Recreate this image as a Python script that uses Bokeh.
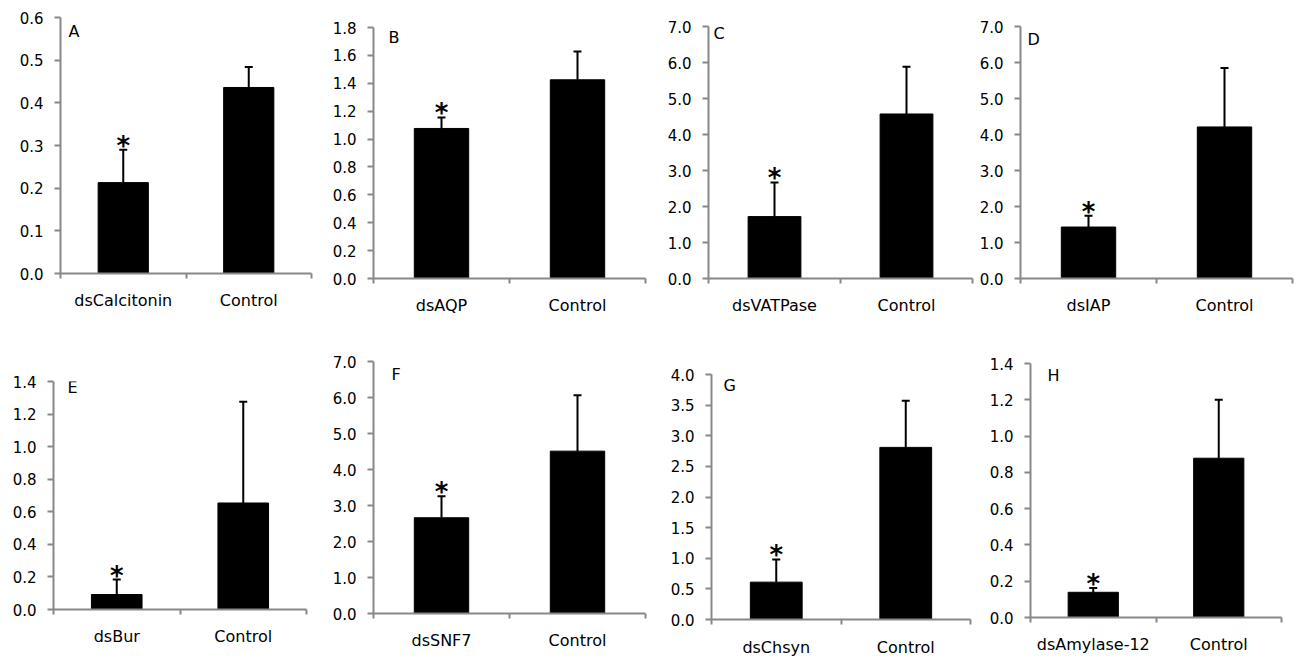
from bokeh.plotting import figure
from bokeh.layouts import column, row
from bokeh.models import (Range1d, FixedTicker, PrintfTickFormatter, Whisker,
                          TeeHead, ColumnDataSource, Label)
from bokeh.embed import file_html
from bokeh.resources import INLINE
from bokeh.core.properties import value

# ---------------- data ----------------
panel_letters = ["A", "B", "C", "D", "E", "F", "G", "H"]
treatments = ["dsCalcitonin", "dsAQP", "dsVATPase", "dsIAP",
              "dsBur", "dsSNF7", "dsChsyn", "dsAmylase-12"]
control_name = "Control"

means_A = [0.213, 0.436]
se_A = [0.077, 0.048]
means_B = [1.076, 1.425]
se_B = [0.079, 0.203]
means_C = [1.72, 4.57]
se_C = [0.95, 1.31]
means_D = [1.43, 4.21]
se_D = [0.31, 1.64]
means_E = [0.092, 0.654]
se_E = [0.092, 0.621]
means_F = [2.66, 4.51]
se_F = [0.60, 1.55]
means_G = [0.61, 2.81]
se_G = [0.37, 0.76]
means_H = [0.139, 0.878]
se_H = [0.024, 0.322]

stars = ["*", ""]

yticks_A = [0.0, 0.1, 0.2, 0.3, 0.4, 0.5, 0.6]
yticks_B = [0.0, 0.2, 0.4, 0.6, 0.8, 1.0, 1.2, 1.4, 1.6, 1.8]
yticks_C = [0.0, 1.0, 2.0, 3.0, 4.0, 5.0, 6.0, 7.0]
yticks_D = [0.0, 1.0, 2.0, 3.0, 4.0, 5.0, 6.0, 7.0]
yticks_E = [0.0, 0.2, 0.4, 0.6, 0.8, 1.0, 1.2, 1.4]
yticks_F = [0.0, 1.0, 2.0, 3.0, 4.0, 5.0, 6.0, 7.0]
yticks_G = [0.0, 0.5, 1.0, 1.5, 2.0, 2.5, 3.0, 3.5, 4.0]
yticks_H = [0.0, 0.2, 0.4, 0.6, 0.8, 1.0, 1.2, 1.4]

all_means = [means_A, means_B, means_C, means_D, means_E, means_F, means_G, means_H]
all_se = [se_A, se_B, se_C, se_D, se_E, se_F, se_G, se_H]
all_yticks = [yticks_A, yticks_B, yticks_C, yticks_D, yticks_E, yticks_F, yticks_G, yticks_H]

# ---------------- layout / style ----------------
# width, height, min_border left/right/top/bottom, letter dx, letter dy, x label standoff
layout = [
    (322, 333, 60, 11, 17, 60, 8, 14, 12),
    (330, 333, 51, 7, 27, 55, 15, 10, 12),
    (323, 333, 56, 3, 26, 55, 5, 7, 12),
    (324, 333, 45, 7, 26, 55, 7, 13, 12),
    (322, 326, 53, 16, 48, 50, 14, 6, 12),
    (330, 326, 51, 7, 28, 46, 18, 13, 12),
    (323, 326, 59, 5, 41, 37, 12, 11, 13),
    (324, 326, 55, 18, 30, 42, 17, 12, 12),
]

AXIS_GRAY = "#888888"
FONT = "DejaVu Sans"


def make_panel(i):
    w, h, mbl, mbr, mbt, mbb, ldx, ldy, xstand = layout[i]
    yt = all_yticks[i]
    means = all_means[i]
    ses = all_se[i]
    p = figure(width=w, height=h, x_range=Range1d(-0.5, 1.5),
               y_range=Range1d(yt[0], yt[-1]), title=None,
               toolbar_location=None, output_backend="svg",
               min_border_left=mbl, min_border_right=mbr,
               min_border_top=mbt, min_border_bottom=mbb)
    p.xgrid.visible = False
    p.ygrid.visible = False
    p.outline_line_color = None
    p.background_fill_color = "white"
    p.border_fill_color = "white"

    xs = [0, 1]
    uppers = [m + s for m, s in zip(means, ses)]
    src = ColumnDataSource(dict(x=xs, top=means, upper=uppers, star=stars))

    p.vbar(x="x", top="top", bottom=0, width=0.4, source=src,
           fill_color="black", line_color="black", line_width=1)

    wk = Whisker(base="x", lower="top", upper="upper", source=src,
                 dimension="height", line_color="black", line_width=2,
                 lower_head=None,
                 upper_head=TeeHead(size=8, line_color="black", line_width=2))
    p.add_layout(wk)

    star_src = ColumnDataSource(dict(x=xs[:1], y=uppers[:1], star=stars[:1]))
    p.text(x="x", y="y", text="star", source=star_src,
           text_font=value(FONT), text_font_size="26px",
           text_font_style="bold",
           text_align="center", text_baseline="alphabetic",
           y_offset=-4, text_color="black")

    # y axis
    ya = p.yaxis[0]
    ya.ticker = FixedTicker(ticks=yt)
    ya.formatter = PrintfTickFormatter(format="%.1f")
    ya.axis_line_color = AXIS_GRAY
    ya.axis_line_width = 2
    ya.major_tick_line_color = AXIS_GRAY
    ya.major_tick_line_width = 2
    ya.major_tick_out = 6
    ya.major_tick_in = 0
    ya.minor_tick_out = 0
    ya.minor_tick_in = 0
    ya.minor_tick_line_color = None
    ya.major_label_standoff = 11
    ya.major_label_text_font = FONT
    ya.major_label_text_font_size = "15px"
    ya.major_label_text_color = "black"

    # x axis
    xa = p.xaxis[0]
    xa.ticker = FixedTicker(ticks=[0, 1], minor_ticks=[-0.5, 0.5, 1.5])
    xa.major_label_overrides = {0: treatments[i], 1: control_name}
    xa.axis_line_color = AXIS_GRAY
    xa.axis_line_width = 2
    xa.major_tick_line_color = None
    xa.major_tick_out = 0
    xa.major_tick_in = 0
    xa.minor_tick_line_color = AXIS_GRAY
    xa.minor_tick_line_width = 2
    xa.minor_tick_out = 5
    xa.minor_tick_in = 0
    xa.major_label_standoff = xstand
    xa.major_label_text_font = FONT
    xa.major_label_text_font_size = "16px"
    xa.major_label_text_color = "black"

    lab = Label(x=-0.5, y=yt[-1], x_offset=ldx, y_offset=-ldy,
                text=panel_letters[i], text_baseline="middle",
                text_align="left", text_font=FONT, text_font_size="16px",
                text_color="black")
    p.add_layout(lab)
    return p


panels = [make_panel(i) for i in range(8)]
# wrap each plot so that rows/columns do not align the plot frames
cells = [column(p, spacing=0) for p in panels]
page = column(row(*cells[:4], spacing=0), row(*cells[4:], spacing=0), spacing=0)

open("out.html", "w").write(file_html(page, INLINE))
